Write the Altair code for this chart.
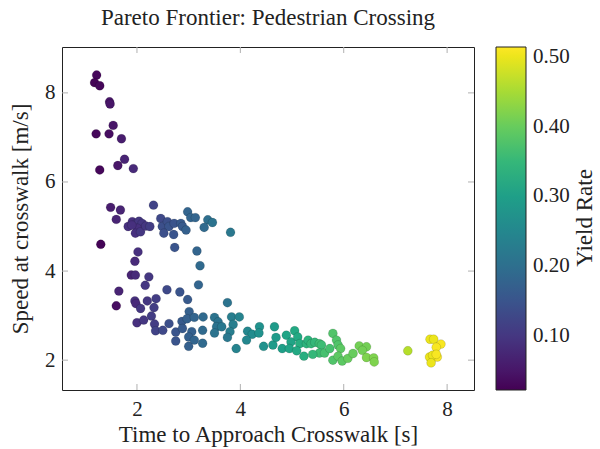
import altair as alt
import pandas as pd

# Approach time [s], crossing speed [m/s] and yield rate for each candidate
time_s = [
    1.22, 1.18, 1.28, 1.47, 1.48, 1.54, 1.21, 1.46, 1.70, 1.76, 1.63, 1.93, 1.28,
    1.49, 1.68, 2.32, 1.60, 1.30,
    1.83, 1.91, 1.97, 2.04, 2.10, 2.01, 1.97, 2.07, 2.17, 2.25, 1.90,
    2.46, 2.49, 2.59, 2.62, 2.52, 2.71, 2.72, 2.85, 2.88, 2.95, 2.98, 3.04, 3.13,
    3.37, 3.46, 3.30, 3.81,
    2.73, 2.02, 3.16, 1.96, 3.22, 1.89, 1.97, 2.23, 2.16, 1.65, 2.58, 2.83, 3.19,
    1.60, 1.96, 1.98, 2.20, 2.37, 2.07, 2.33, 2.98, 3.75, 2.28, 2.00, 2.13, 2.34,
    2.36, 2.50, 2.62, 2.75, 2.87, 2.75, 3.00, 3.01, 2.97, 3.11, 3.28, 2.88, 3.06,
    3.00, 3.11, 3.27, 3.27, 3.50, 3.57, 3.54, 3.50, 3.64, 3.83, 3.98, 3.86, 3.80,
    3.75, 3.92, 4.14, 4.23, 4.37, 4.36, 4.12, 4.45, 4.66, 4.63, 4.69, 4.81, 4.89,
    5.05, 4.98, 4.95, 5.11, 5.15, 5.09, 5.23, 5.28,
    5.31, 5.37, 5.44, 5.53, 5.57, 5.53, 5.40, 5.63, 5.79, 5.86, 5.73, 5.89, 5.94,
    5.79, 5.89, 5.97, 6.08, 6.18, 6.30, 6.44, 6.36, 6.44, 6.58, 6.59, 7.24,
    7.67, 7.74, 7.88, 7.79, 7.66, 7.74, 7.81, 7.72, 7.69, 7.79,
]
speed_ms = [
    8.40, 8.23, 8.16, 7.80, 7.75, 7.27, 7.08, 7.08, 6.97, 6.51, 6.37, 6.30, 6.27,
    5.43, 5.37, 5.48, 5.16, 4.60,
    5.00, 5.11, 5.05, 5.12, 5.07, 4.96, 4.85, 4.88, 5.01, 5.00, 5.03,
    5.18, 5.00, 5.11, 5.00, 4.85, 4.82, 5.07, 5.07, 5.00, 4.92, 5.33, 5.20, 5.20,
    5.15, 5.09, 4.98, 4.87,
    4.53, 4.43, 4.45, 4.22, 4.12, 3.91, 3.91, 3.87, 3.68, 3.55, 3.58, 3.53, 3.69,
    3.22, 3.33, 3.27, 3.33, 3.38, 3.16, 3.18, 3.36, 3.29, 2.99, 2.84, 2.90, 2.81,
    2.66, 2.67, 2.82, 2.63, 2.87, 2.43, 2.31, 3.09, 2.93, 2.96, 2.97, 2.71, 2.64,
    2.52, 2.45, 2.67, 2.38, 2.96, 2.86, 2.75, 2.61, 2.75, 2.97, 2.97, 2.80, 2.64,
    2.51, 2.26, 2.65, 2.58, 2.75, 2.61, 2.45, 2.31, 2.75, 2.34, 2.51, 2.26, 2.56,
    2.66, 2.41, 2.26, 2.52, 2.37, 2.21, 2.09, 2.37,
    2.45, 2.37, 2.40, 2.37, 2.34, 2.16, 2.13, 2.16, 2.60, 2.45, 2.26, 2.34, 2.26,
    2.00, 2.09, 1.98, 2.04, 2.15, 2.32, 2.30, 2.22, 2.06, 2.05, 1.96, 2.21,
    2.47, 2.47, 2.36, 2.29, 2.07, 2.07, 2.07, 2.11, 1.94, 2.13,
]
yield_rate = [
    0.030, 0.025, 0.030, 0.050, 0.050, 0.050, 0.030, 0.040, 0.060, 0.070, 0.050, 0.080, 0.030,
    0.060, 0.070, 0.120, 0.070, 0.025,
    0.090, 0.090, 0.100, 0.100, 0.100, 0.090, 0.090, 0.100, 0.100, 0.110, 0.090,
    0.130, 0.140, 0.140, 0.150, 0.140, 0.150, 0.150, 0.160, 0.160, 0.170, 0.180, 0.180, 0.180,
    0.200, 0.210, 0.190, 0.220,
    0.150, 0.090, 0.180, 0.080, 0.190, 0.070, 0.080, 0.100, 0.100, 0.070, 0.130, 0.150, 0.180,
    0.040, 0.090, 0.080, 0.100, 0.110, 0.100, 0.110, 0.160, 0.210, 0.110, 0.090, 0.100, 0.110,
    0.120, 0.130, 0.140, 0.150, 0.160, 0.150, 0.170, 0.170, 0.170, 0.180, 0.190, 0.160, 0.170,
    0.170, 0.180, 0.190, 0.190, 0.210, 0.210, 0.210, 0.210, 0.220, 0.230, 0.240, 0.230, 0.230,
    0.220, 0.240, 0.250, 0.260, 0.270, 0.270, 0.250, 0.270, 0.290, 0.290, 0.290, 0.300, 0.310,
    0.320, 0.310, 0.310, 0.320, 0.330, 0.320, 0.330, 0.340,
    0.340, 0.350, 0.350, 0.360, 0.360, 0.360, 0.350, 0.370, 0.380, 0.380, 0.370, 0.380, 0.390,
    0.380, 0.390, 0.390, 0.400, 0.400, 0.410, 0.410, 0.410, 0.420, 0.420, 0.420, 0.460,
    0.500, 0.500, 0.510, 0.510, 0.500, 0.500, 0.510, 0.500, 0.500, 0.510,
]

axis_ticks = [2, 4, 6, 8]
colorbar_ticks = [0.10, 0.20, 0.30, 0.40, 0.50]
yield_domain = [0.023, 0.514]

W, H = 412, 343
FONT = "Liberation Serif"
INK = "#222222"
TICK_GRAY = "#b0b0b0"
LABEL_SIZE = 21
TITLE_SIZE = 23
BAR_X, BAR_W = W + 22, 30

df = pd.DataFrame({"t": time_s, "v": speed_ms, "y": yield_rate})
ticks = pd.DataFrame({"k": axis_ticks})
cticks = pd.DataFrame({"c": colorbar_ticks})

xscale = alt.Scale(domain=[0.55, 8.52], nice=False, zero=False)
yscale = alt.Scale(domain=[1.33, 9.03], nice=False, zero=False)
cbar_scale = alt.Scale(domain=yield_domain, nice=False, zero=False)


def serif_axis(title, label_pad, title_pad):
    return alt.Axis(title=title, values=axis_ticks, ticks=False, domain=False,
                    grid=False, labelPadding=label_pad, titlePadding=title_pad,
                    labelFont=FONT, titleFont=FONT, labelFontSize=LABEL_SIZE,
                    titleFontSize=TITLE_SIZE, labelColor=INK, titleColor=INK,
                    titleFontWeight="normal")


points = alt.Chart(df).mark_circle(
    size=80, opacity=1, stroke="#000000", strokeOpacity=0.18, strokeWidth=0.7
).encode(
    x=alt.X("t:Q", scale=xscale,
            axis=serif_axis("Time to Approach Crosswalk [s]", 8, 4)),
    y=alt.Y("v:Q", scale=yscale,
            axis=serif_axis("Speed at crosswalk [m/s]", 7, 12)),
    color=alt.Color("y:Q",
                    scale=alt.Scale(scheme="viridis", domain=yield_domain),
                    legend=alt.Legend(title=None, values=colorbar_ticks, format=".2f",
                                      gradientLength=H, gradientThickness=BAR_W,
                                      gradientStrokeColor=INK,
                                      gradientStrokeWidth=1, offset=22,
                                      labelFontSize=LABEL_SIZE, labelFont=FONT,
                                      labelColor=INK, labelOffset=7)),
)

# Inward tick marks on all four sides of the frame
x_bottom = alt.Chart(ticks).mark_rule(color=TICK_GRAY).encode(
    x=alt.X("k:Q", scale=xscale), y=alt.value(H), y2=alt.value(H - 6))
x_top = alt.Chart(ticks).mark_rule(color=TICK_GRAY).encode(
    x=alt.X("k:Q", scale=xscale), y=alt.value(0), y2=alt.value(6))
y_left = alt.Chart(ticks).mark_rule(color=TICK_GRAY).encode(
    y=alt.Y("k:Q", scale=yscale, axis=None), x=alt.value(0), x2=alt.value(6))
y_right = alt.Chart(ticks).mark_rule(color=TICK_GRAY).encode(
    y=alt.Y("k:Q", scale=yscale, axis=None), x=alt.value(W - 6), x2=alt.value(W))

# Faint tick marks across both edges of the colour bar
cbar_left = alt.Chart(cticks).mark_rule(color="#9a9a9a", strokeOpacity=0.6).encode(
    y=alt.Y("c:Q", scale=cbar_scale, axis=None),
    x=alt.value(BAR_X), x2=alt.value(BAR_X + 6))
cbar_right = alt.Chart(cticks).mark_rule(color="#9a9a9a", strokeOpacity=0.6).encode(
    y=alt.Y("c:Q", scale=cbar_scale, axis=None),
    x=alt.value(BAR_X + BAR_W - 6), x2=alt.value(BAR_X + BAR_W))

cbar_title = alt.Chart(pd.DataFrame({"s": ["Yield Rate"]})).mark_text(
    angle=270, font=FONT, fontSize=TITLE_SIZE, color=INK, baseline="middle",
    align="center"
).encode(text="s:N", x=alt.value(523), y=alt.value(171))

chart = alt.layer(
    x_bottom, x_top, y_left, y_right, points, cbar_left, cbar_right, cbar_title
).resolve_scale(y="independent").properties(
    width=W, height=H,
    title=alt.TitleParams("Pareto Frontier: Pedestrian Crossing", font=FONT,
                          fontSize=TITLE_SIZE, fontWeight="normal", color=INK,
                          anchor="middle", offset=17),
    autosize="none",
    padding={"left": 62, "top": 47, "right": 126, "bottom": 59},
).configure(background="white").configure_view(stroke=INK, strokeWidth=1)

chart.save("out.html", embed_options={"renderer": "svg", "actions": False})
